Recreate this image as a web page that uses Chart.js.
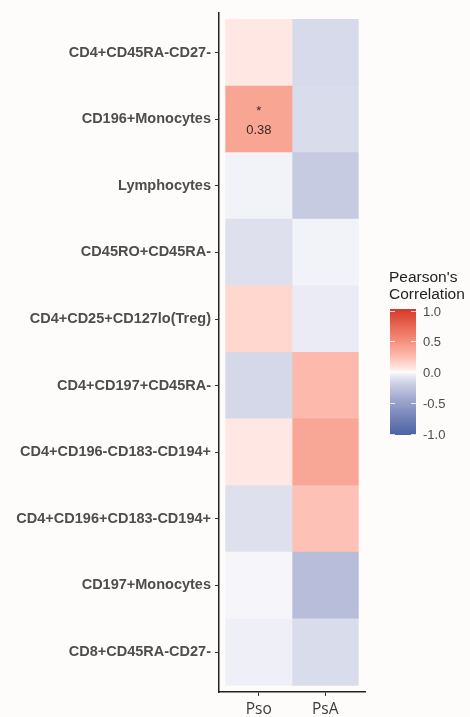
<!DOCTYPE html>
<html>
<head>
<meta charset="utf-8">
<script src="https://cdn.jsdelivr.net/npm/chart.js@4.4.1/dist/chart.umd.min.js"></script>
<style>
  html, body { margin: 0; padding: 0; background: #fdfcfa; }
  #wrap { width: 470px; height: 717px; position: relative; }
</style>
</head>
<body>
<div id="wrap"><canvas id="heatmap"></canvas></div>
<script>
const rowLabels = [
  "CD4+CD45RA-CD27-",
  "CD196+Monocytes",
  "Lymphocytes",
  "CD45RO+CD45RA-",
  "CD4+CD25+CD127lo(Treg)",
  "CD4+CD197+CD45RA-",
  "CD4+CD196-CD183-CD194+",
  "CD4+CD196+CD183-CD194+",
  "CD197+Monocytes",
  "CD8+CD45RA-CD27-"
];
const columnLabels = ["Pso", "PsA"];
const psoValues = [0.06, 0.38, -0.03, -0.11, 0.13, -0.15, 0.06, -0.11, -0.02, -0.04];
const psaValues = [-0.14, -0.13, -0.22, -0.03, -0.06, 0.27, 0.37, 0.23, -0.30, -0.13];
const psoSignificant = [false, true, false, false, false, false, false, false, false, false];
const psaSignificant = [false, false, false, false, false, false, false, false, false, false];
const legendTicks = [1.0, 0.5, 0.0, -0.5, -1.0];

const columnValues = [psoValues, psaValues];
const columnSignificant = [psoSignificant, psaSignificant];

// diverging fill, interpolated in Lab
const lowColor = "#4e66a4";
const midColor = "#ffffff";
const highColor = "#d73b2e";

function hexToRgb(hex) {
  const n = parseInt(hex.slice(1), 16);
  return [(n >> 16) & 255, (n >> 8) & 255, n & 255];
}
function toLinear(c) {
  c /= 255;
  return c <= 0.04045 ? c / 12.92 : Math.pow((c + 0.055) / 1.055, 2.4);
}
function fromLinear(c) {
  const v = c <= 0.0031308 ? 12.92 * c : 1.055 * Math.pow(c, 1 / 2.4) - 0.055;
  return Math.round(Math.max(0, Math.min(1, v)) * 255);
}
function rgbToLab(rgb) {
  const R = toLinear(rgb[0]), G = toLinear(rgb[1]), B = toLinear(rgb[2]);
  const x = (0.4124 * R + 0.3576 * G + 0.1805 * B) / 0.95047;
  const y = 0.2126 * R + 0.7152 * G + 0.0722 * B;
  const z = (0.0193 * R + 0.1192 * G + 0.9505 * B) / 1.08883;
  const f = t => t > 0.008856 ? Math.cbrt(t) : 7.787 * t + 16 / 116;
  const fx = f(x), fy = f(y), fz = f(z);
  return [116 * fy - 16, 500 * (fx - fy), 200 * (fy - fz)];
}
function labToRgb(lab) {
  const fy = (lab[0] + 16) / 116, fx = fy + lab[1] / 500, fz = fy - lab[2] / 200;
  const inv = t => t * t * t > 0.008856 ? t * t * t : (t - 16 / 116) / 7.787;
  const x = inv(fx) * 0.95047, y = inv(fy), z = inv(fz) * 1.08883;
  const R = 3.2406 * x - 1.5372 * y - 0.4986 * z;
  const G = -0.9689 * x + 1.8758 * y + 0.0415 * z;
  const B = 0.0557 * x - 0.2040 * y + 1.0570 * z;
  return [fromLinear(R), fromLinear(G), fromLinear(B)];
}
const lowLab = rgbToLab(hexToRgb(lowColor));
const midLab = rgbToLab(hexToRgb(midColor));
const highLab = rgbToLab(hexToRgb(highColor));

function fillColor(v) {
  const t = Math.pow(Math.min(1, Math.abs(v)), 0.75);
  const end = v < 0 ? lowLab : highLab;
  const lab = midLab.map((m, k) => m + (end[k] - m) * t);
  const rgb = labToRgb(lab);
  return "rgb(" + rgb[0] + "," + rgb[1] + "," + rgb[2] + ")";
}

const datasets = columnLabels.map((col, c) => ({
  label: col,
  data: rowLabels.map((row, i) => ({ y: i + 0.5, x: [c, c + 1] })),
  backgroundColor: columnValues[c].map(fillColor),
  borderWidth: 0,
  barPercentage: 1,
  categoryPercentage: 1,
  grouped: false
}));

const cellText = {
  id: "cellText",
  afterDatasetsDraw(chart) {
    const { ctx, scales } = chart;
    ctx.save();
    ctx.fillStyle = "#3a2a26";
    ctx.textAlign = "center";
    ctx.textBaseline = "middle";
    columnLabels.forEach((col, c) => {
      columnValues[c].forEach((v, i) => {
        if (!columnSignificant[c][i]) return;
        const cx = scales.x.getPixelForValue(c + 0.5);
        const cy = scales.y.getPixelForValue(i + 0.5);
        ctx.font = '13px "Liberation Sans", Arial';
        ctx.fillText("*", cx, cy - 8);
        ctx.fillText(v.toFixed(2), cx, cy + 11);
      });
    });
    ctx.restore();
  }
};

const colorBar = {
  id: "colorBar",
  afterDraw(chart) {
    const ctx = chart.ctx;
    const left = 390, width = 26, top = 309, bottom = 435;
    const zeroY = 372, unit = 61.5;
    ctx.save();
    for (let py = top; py < bottom; py++) {
      const v = Math.max(-1, Math.min(1, (zeroY - (py + 0.5)) / unit));
      ctx.fillStyle = fillColor(v);
      ctx.fillRect(left, py, width, 1);
    }
    ctx.strokeStyle = "rgba(255,255,255,0.8)";
    ctx.lineWidth = 1;
    ctx.fillStyle = "#4d4d4d";
    ctx.font = '13px "Liberation Sans", Arial';
    ctx.textAlign = "left";
    ctx.textBaseline = "middle";
    legendTicks.forEach(t => {
      const ty = Math.round(zeroY - t * unit) + 0.5;
      ctx.beginPath();
      ctx.moveTo(left, ty); ctx.lineTo(left + 5, ty);
      ctx.moveTo(left + width - 5, ty); ctx.lineTo(left + width, ty);
      ctx.stroke();
      ctx.fillText(t.toFixed(1), left + 33, ty + 1);
    });
    ctx.fillStyle = "#222222";
    ctx.font = '15.5px "Liberation Sans", Arial';
    ctx.fillText("Pearson's", 389, 278);
    ctx.fillText("Correlation", 389, 295);
    ctx.restore();
  }
};

const axisGrid = {
  display: true,
  offset: false,
  drawOnChartArea: false,
  drawTicks: true,
  tickLength: 4,
  color: "#333333",
  lineWidth: 1
};
const axisBorder = { display: true, color: "#222222", width: 1.5 };

new Chart(document.getElementById("heatmap"), {
  type: "bar",
  data: { datasets: datasets },
  plugins: [cellText, colorBar],
  options: {
    indexAxis: "y",
    responsive: true,
    maintainAspectRatio: false,
    animation: false,
    layout: { padding: { top: 10, right: 105, left: 0, bottom: 0 } },
    plugins: { legend: { display: false }, tooltip: { enabled: false } },
    scales: {
      x: {
        type: "linear",
        position: "bottom",
        offset: false,
        min: -0.1,
        max: 2.1,
        afterBuildTicks: s => { s.ticks = columnLabels.map((col, c) => ({ value: c + 0.5 })); },
        afterFit: s => { s.height = 25; },
        ticks: {
          callback: (v, i) => columnLabels[i],
          font: { family: '"Open Sans"', size: 15.5 },
          color: "#3a3a3a",
          padding: 4,
          autoSkip: false,
          maxRotation: 0
        },
        grid: axisGrid,
        border: axisBorder
      },
      y: {
        type: "linear",
        offset: false,
        min: -0.1,
        max: 10.1,
        reverse: true,
        afterBuildTicks: s => { s.ticks = rowLabels.map((row, i) => ({ value: i + 0.5 })); },
        afterFit: s => { s.width = 219; },
        ticks: {
          callback: (v, i) => rowLabels[i],
          font: { family: '"Liberation Sans", Arial', size: 14.5, weight: "bold" },
          color: "#4d4d4d",
          padding: 4,
          autoSkip: false
        },
        grid: axisGrid,
        border: axisBorder
      }
    }
  }
});
</script>
</body>
</html>
